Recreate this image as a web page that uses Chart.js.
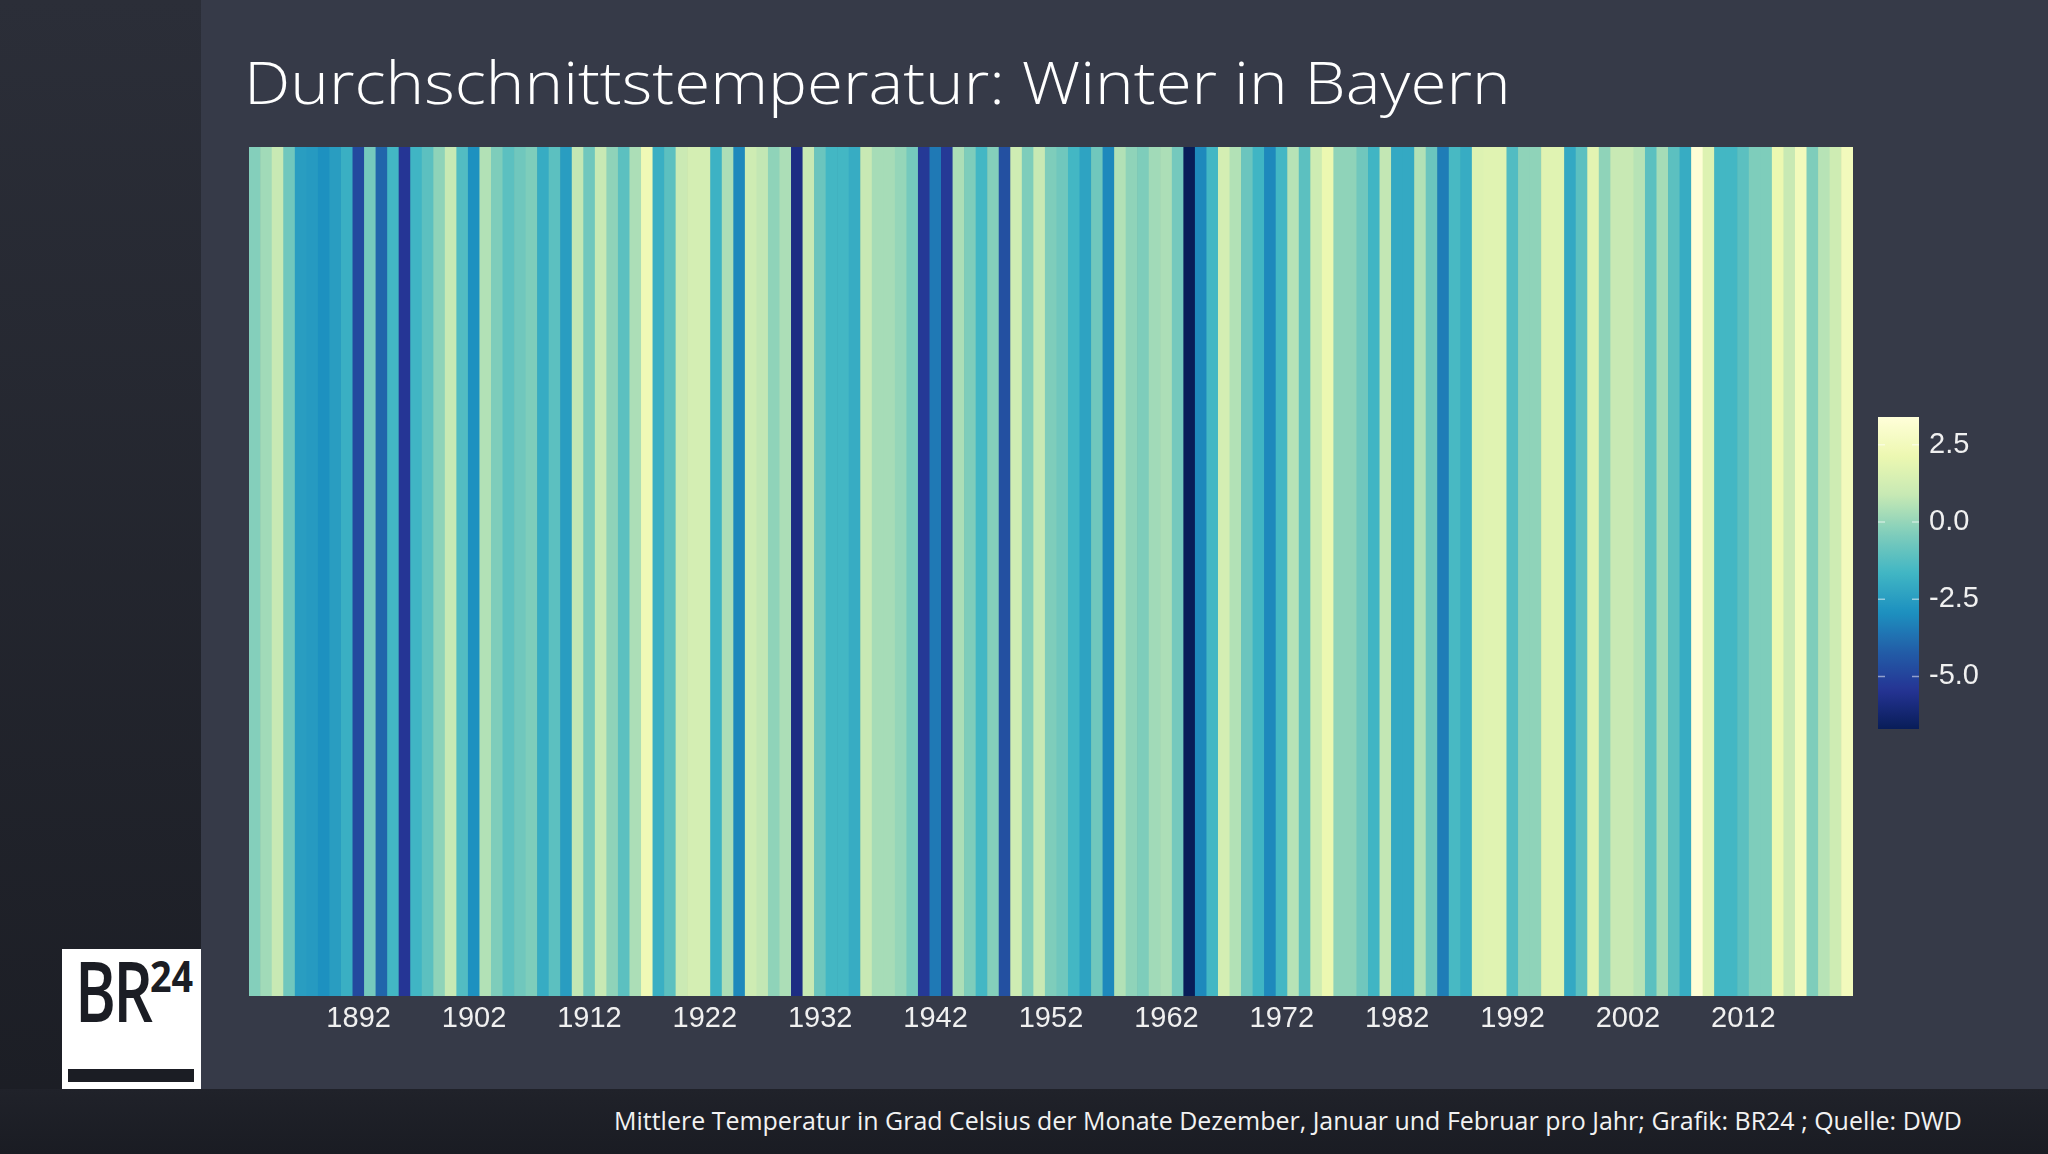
<!DOCTYPE html>
<html><head><meta charset="utf-8">
<script src="https://cdn.jsdelivr.net/npm/chart.js@4"></script>
<style>
html,body{margin:0;padding:0;}
body{width:2048px;height:1154px;position:relative;overflow:hidden;background:#363a48;font-family:"Open Sans",sans-serif;}
#side{position:absolute;left:0;top:0;width:201px;height:1154px;background:linear-gradient(180deg,#2b2e38 0%,#1b1d24 100%);}
#foot{position:absolute;left:0;top:1089px;width:2048px;height:65px;background:linear-gradient(180deg,#20222a,#1a1c23);}
#title{position:absolute;left:244px;top:53px;font-size:58px;line-height:58px;font-weight:300;color:#fff;white-space:nowrap;transform-origin:0 0;}
#note{position:absolute;right:86px;top:1108px;font-size:25px;line-height:25px;color:#f2f2f2;white-space:nowrap;transform-origin:100% 0;}
#logo{position:absolute;left:62px;top:949px;width:139px;height:140px;background:#fff;}
#br{position:absolute;left:13px;top:-1px;font-size:84px;line-height:84px;font-weight:600;color:#1b1d24;white-space:nowrap;transform-origin:0 0;letter-spacing:-4px;}
#b24{position:absolute;left:88px;top:5px;font-size:43px;line-height:43px;font-weight:700;color:#1b1d24;white-space:nowrap;transform-origin:0 0;}
#bar{position:absolute;left:6px;top:120px;width:126px;height:13px;background:#1b1d24;}
#c{position:absolute;left:249px;top:147px;}
#cb{position:absolute;left:1878px;top:417px;}
</style>
</head><body>
<div id="side"></div>
<div id="foot"></div>
<div id="title">Durchschnittstemperatur: Winter in Bayern</div>
<div id="note">Mittlere Temperatur in Grad Celsius der Monate Dezember, Januar und Februar pro Jahr; Grafik: BR24 ; Quelle: DWD</div>
<div id="logo"><div id="br">BR</div><div id="b24">24</div><div id="bar"></div></div>
<canvas id="c" width="1604" height="909"></canvas>
<canvas id="cb" width="130" height="312"></canvas>
<script>
// ---- data ----
const firstYear = 1883;
const temps = [
 -0.3, 0.2, 0.9, -0.7, -2.5, -2.6, -2.9, -2.5, -1.9, -4.8,
 -0.6, -4.0, -1.6, -5.4, -1.7, -1.1, -0.1, 0.9, -1.3, -2.9,
 0.5, -0.4, -1.1, -0.7, -0.4, -2.0, -1.1, -2.5, 0.8, -0.7,
 0.9, -0.1, -1.1, 0.4, 2.3, -1.9, -1.1, 1.0, 1.3, 1.3,
 -1.8, 0.4, -3.1, 1.1, 0.8, -0.1, 0.4, -5.8, 0.9, -0.8,
 -1.6, -1.6, -2.0, 0.9, 0.3, 0.3, 0.0, -0.6, -5.3, -3.5,
 -5.3, 0.4, -0.4, -1.6, -0.3, -4.6, 1.1, -0.4, 0.9, -0.4,
 -0.7, -1.6, -2.3, -0.7, -3.1, 0.5, -0.1, -0.4, 0.2, 0.4,
 -0.6, -6.7, -3.1, -1.6, 1.3, 0.5, -0.8, -1.7, -3.1, -1.6,
 0.6, -1.1, 1.1, 2.1, -0.1, -0.1, -0.7, -1.7, 0.8, -2.1,
 -2.1, 0.5, -0.8, -3.4, -1.5, -2.0, 1.6, 1.7, 1.7, -1.3,
 -0.1, -0.1, 1.7, 1.7, -2.1, -1.1, 1.8, -0.1, 0.9, 0.9,
 0.6, -1.1, 0.3, -1.1, -2.0, 3.3, 1.6, -1.6, -1.6, -1.1,
 -0.4, -0.4, 2.1, 0.9, 2.5, -0.4, 0.6, 1.1, 2.5
];
const years = temps.map((_, i) => String(firstYear + i));
const xTickLabels = ['1892','1902','1912','1922','1932','1942','1952','1962','1972','1982','1992','2002','2012'];
const legendTicks = [2.5, 0.0, -2.5, -5.0];
const colorMin = -6.7, colorMax = 3.4;
const palette = ['#ffffd9','#edf8b1','#c7e9b4','#7fcdbb','#41b6c4','#1d91c0','#225ea8','#253494','#081d58'];

function hexRgb(h){return [parseInt(h.substr(1,2),16),parseInt(h.substr(3,2),16),parseInt(h.substr(5,2),16)];}
const palRgb = palette.map(hexRgb);
function tempColor(v){
  let t = (colorMax - v) / (colorMax - colorMin);
  t = Math.max(0, Math.min(1, t));
  const p = t * (palRgb.length - 1);
  const i = Math.min(palRgb.length - 2, Math.floor(p));
  const f = p - i;
  const a = palRgb[i], b = palRgb[i+1];
  const c = a.map((x, j) => Math.round(x + (b[j] - x) * f));
  return `rgb(${c[0]},${c[1]},${c[2]})`;
}

// ---- main stripes chart ----
new Chart(document.getElementById('c'), {
  type: 'bar',
  data: {
    labels: years,
    datasets: [{
      data: temps.map(() => 1),
      backgroundColor: temps.map(tempColor),
      borderWidth: 0,
      categoryPercentage: 1,
      barPercentage: 1
    }]
  },
  options: {
    responsive: false,
    animation: false,
    layout: {padding: 0},
    plugins: {legend: {display: false}, tooltip: {enabled: false}},
    scales: {
      y: {display: false, min: 0, max: 1},
      x: {
        grid: {display: false, drawTicks: false},
        border: {display: false},
        ticks: {
          autoSkip: false, maxRotation: 0, minRotation: 0, padding: 6,
          color: '#f0f0f0',
          font: {family: 'Liberation Sans', size: 29},
          callback: function(val, idx){ const l = years[idx]; return xTickLabels.includes(l) ? l : null; }
        },
        afterFit: s => { s.height = 60; s.paddingLeft = 0; s.paddingRight = 0; }
      }
    }
  }
});

// ---- colour bar ----
const colorbarPlugin = {
  id: 'colorbar',
  beforeDatasetsDraw(chart){
    const {ctx, chartArea: a, scales: {y}} = chart;
    const g = ctx.createLinearGradient(0, a.top, 0, a.bottom);
    for (let i = 0; i <= 60; i++) {
      const v = y.getValueForPixel(a.top + (a.bottom - a.top) * i / 60);
      g.addColorStop(i / 60, tempColor(v));
    }
    ctx.save();
    ctx.fillStyle = g;
    ctx.fillRect(a.left, a.top, a.right - a.left, a.bottom - a.top);
    ctx.strokeStyle = 'rgba(255,255,255,0.5)';
    ctx.lineWidth = 1.5;
    legendTicks.forEach(v => {
      const py = y.getPixelForValue(v);
      ctx.beginPath();
      ctx.moveTo(a.left, py); ctx.lineTo(a.left + 7, py);
      ctx.moveTo(a.right - 7, py); ctx.lineTo(a.right, py);
      ctx.stroke();
    });
    ctx.restore();
  }
};
new Chart(document.getElementById('cb'), {
  type: 'bar',
  data: {labels: [''], datasets: [{data: []}]},
  plugins: [colorbarPlugin],
  options: {
    responsive: false,
    animation: false,
    layout: {padding: 0},
    plugins: {legend: {display: false}, tooltip: {enabled: false}},
    scales: {
      x: {display: false},
      y: {
        position: 'right', min: colorMin, max: colorMax,
        grid: {display: false, drawTicks: false},
        border: {display: false},
        afterBuildTicks: s => { s.ticks = legendTicks.map(v => ({value: v})); },
        ticks: {
          padding: 10, color: '#f0f0f0',
          font: {family: 'Liberation Sans', size: 29},
          callback: v => Number(v).toFixed(1)
        },
        afterFit: s => { s.width = 89; s.paddingTop = 0; s.paddingBottom = 0; }
      }
    }
  }
});

// ---- fit text widths ----
function fit(id, w){
  const el = document.getElementById(id);
  el.style.transform = 'none';
  const r = el.scrollWidth;
  el.style.transform = `scaleX(${w / r})`;
}
function fitAll(){ fit('title', 1267); fit('note', 1348); fit('br', 75); fit('b24', 43); }
fitAll();
if (document.fonts) document.fonts.ready.then(fitAll);
</script>
</body></html>
